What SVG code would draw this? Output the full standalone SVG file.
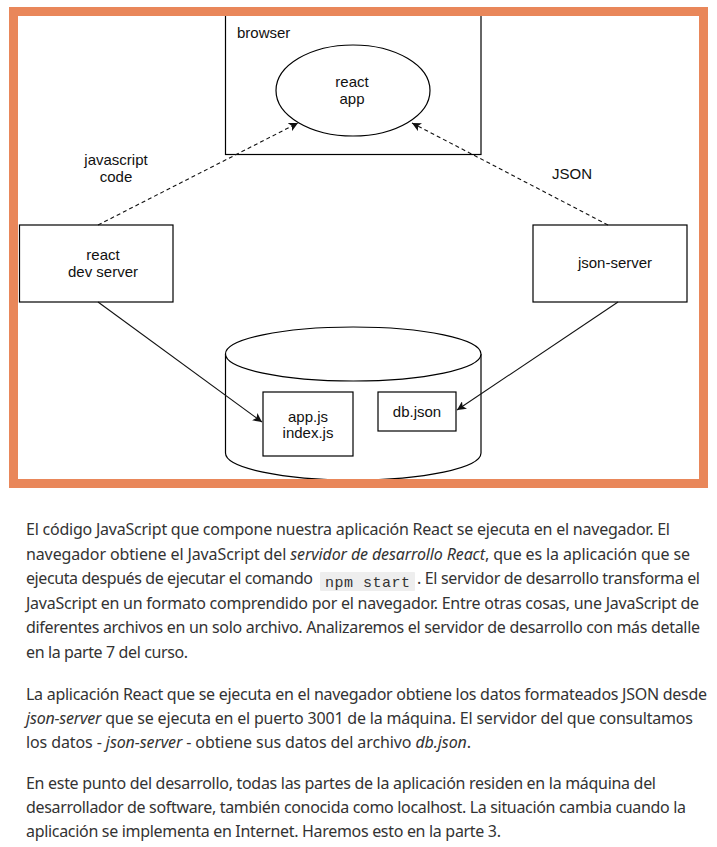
<svg xmlns="http://www.w3.org/2000/svg" width="717" height="847" viewBox="0 0 717 847">
<style>
.shape{fill:#fff;stroke:#000;stroke-width:1.2}
.lbl{font-family:"Liberation Sans",Arial,sans-serif;font-size:15px;fill:#111;text-anchor:middle}
.conn{fill:none;stroke:#111;stroke-width:1.1}
.dash{stroke-dasharray:4 3}
.p{font-family:"Noto Sans","Open Sans",sans-serif;font-size:16px;fill:#333}
.i{font-style:italic}
.code{font-family:"Liberation Mono","DejaVu Sans Mono",monospace;font-size:15px;fill:#333}
</style>
<defs>
<marker id="ah" viewBox="0 0 10 10" refX="10" refY="5" markerWidth="9" markerHeight="9" markerUnits="userSpaceOnUse" orient="auto">
<path d="M0,0 L10,5 L0,10 L2.5,5 Z" fill="#111"/>
</marker>
</defs>
<rect width="717" height="847" fill="#fff"/>
<g id="browser">
<rect class="shape" x="225.5" y="8" width="255.5" height="146.5"/>
<text class="lbl" x="237" y="38" style="text-anchor:start">browser</text>
</g>
<g id="react-app">
<ellipse class="shape" cx="353" cy="90.5" rx="77" ry="45.5"/>
<text class="lbl" x="352" y="87">react</text>
<text class="lbl" x="352" y="104">app</text>
</g>
<g id="dev-server">
<rect class="shape" x="19.5" y="225" width="153.5" height="77"/>
<text class="lbl" x="103" y="260">react</text>
<text class="lbl" x="103" y="277">dev server</text>
</g>
<g id="json-server">
<rect class="shape" x="533" y="225" width="154" height="77"/>
<text class="lbl" x="615" y="268">json-server</text>
</g>
<g id="storage">
<path class="shape" d="M225.5,354 L225.5,453 A127.5,27 0 0 0 481,453 L481,354"/>
<ellipse class="shape" cx="353.25" cy="354" rx="127.75" ry="27"/>
</g>
<g id="app-files">
<rect class="shape" x="263" y="392" width="90" height="64"/>
<text class="lbl" x="308" y="422">app.js</text>
<text class="lbl" x="308" y="438">index.js</text>
</g>
<g id="db-json">
<rect class="shape" x="378" y="392" width="78" height="39"/>
<text class="lbl" x="417" y="417">db.json</text>
</g>
<g id="connectors">
<line class="conn dash" x1="98" y1="225" x2="298" y2="123" marker-end="url(#ah)"/>
<line class="conn dash" x1="608" y1="225" x2="412" y2="123" marker-end="url(#ah)"/>
<line class="conn" x1="98" y1="302" x2="262" y2="422" marker-end="url(#ah)"/>
<line class="conn" x1="618" y1="302" x2="457" y2="410" marker-end="url(#ah)"/>
<text class="lbl" x="116" y="165">javascript</text>
<text class="lbl" x="116" y="182">code</text>
<text class="lbl" x="572" y="179">JSON</text>
</g>
<rect x="13.5" y="11.5" width="690" height="472" fill="none" stroke="#e9875a" stroke-width="9"/>
<g id="text">
<text class="p" x="26" y="535" textLength="644">El código JavaScript que compone nuestra aplicación React se ejecuta en el navegador. El</text>
<text class="p" x="26" y="559.6" textLength="664">navegador obtiene el JavaScript del <tspan class="i">servidor de desarrollo React</tspan>, que es la aplicación que se</text>
<text class="p" x="26" y="584.2" textLength="287">ejecuta después de ejecutar el comando</text>
<rect x="320" y="572" width="95" height="19" fill="#eeeeee" rx="1"/>
<text class="code" x="325" y="587" textLength="85">npm start</text>
<text class="p" x="417" y="584.2" textLength="283">. El servidor de desarrollo transforma el</text>
<text class="p" x="26" y="608.8" textLength="673">JavaScript en un formato comprendido por el navegador. Entre otras cosas, une JavaScript de</text>
<text class="p" x="26" y="633.4" textLength="674">diferentes archivos en un solo archivo. Analizaremos el servidor de desarrollo con más detalle</text>
<text class="p" x="26" y="658" textLength="162">en la parte 7 del curso.</text>
<text class="p" x="26" y="699.5" textLength="681">La aplicación React que se ejecuta en el navegador obtiene los datos formateados JSON desde</text>
<text class="p" x="26" y="724" textLength="667"><tspan class="i">json-server</tspan> que se ejecuta en el puerto 3001 de la máquina. El servidor del que consultamos</text>
<text class="p" x="26" y="748" textLength="445">los datos - <tspan class="i">json-server</tspan> - obtiene sus datos del archivo <tspan class="i">db.json</tspan>.</text>
<text class="p" x="26" y="788.5" textLength="630">En este punto del desarrollo, todas las partes de la aplicación residen en la máquina del</text>
<text class="p" x="26" y="812.5" textLength="660">desarrollador de software, también conocida como localhost. La situación cambia cuando la</text>
<text class="p" x="26" y="836.5" textLength="475">aplicación se implementa en Internet. Haremos esto en la parte 3.</text>
</g>
</svg>
